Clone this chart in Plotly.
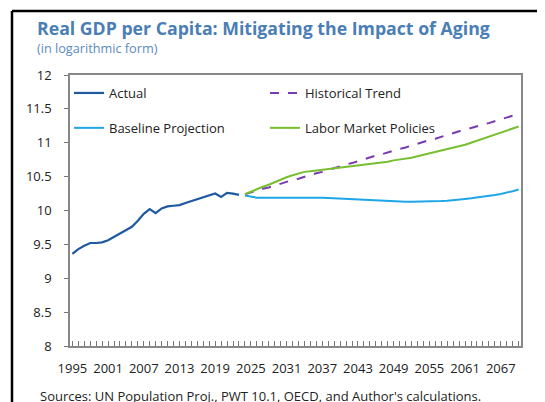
import plotly.graph_objects as go

actual_years = list(range(1995, 2024))
actual = [9.36, 9.43, 9.48, 9.52, 9.52, 9.53, 9.56, 9.61, 9.66, 9.71,
          9.76, 9.85, 9.95, 10.02, 9.96, 10.03, 10.06, 10.07, 10.08, 10.11,
          10.14, 10.17, 10.20, 10.23, 10.25, 10.20, 10.26, 10.25, 10.23]

proj_years = list(range(2024, 2071))
historical = [10.24, 10.27, 10.29, 10.32, 10.34, 10.37, 10.39, 10.42, 10.45, 10.47,
              10.50, 10.52, 10.55, 10.57, 10.60, 10.63, 10.65, 10.68, 10.70, 10.73,
              10.75, 10.78, 10.81, 10.83, 10.86, 10.88, 10.91, 10.93, 10.96, 10.99,
              11.01, 11.04, 11.06, 11.09, 11.11, 11.14, 11.17, 11.19, 11.22, 11.24,
              11.27, 11.29, 11.32, 11.35, 11.37, 11.40, 11.42]
baseline = [10.22, 10.20, 10.19, 10.19, 10.19, 10.19, 10.195, 10.20, 10.20, 10.20,
            10.20, 10.20, 10.20, 10.19, 10.185, 10.18, 10.175, 10.17, 10.165, 10.16,
            10.155, 10.15, 10.145, 10.14, 10.135, 10.13, 10.13, 10.13, 10.13, 10.13,
            10.13, 10.135, 10.14, 10.14, 10.145, 10.15, 10.16, 10.17, 10.18, 10.19,
            10.20, 10.215, 10.23, 10.245, 10.26, 10.285, 10.31]
labor = [10.24, 10.28, 10.31, 10.35, 10.38, 10.42, 10.45, 10.49, 10.52, 10.55,
         10.57, 10.58, 10.59, 10.60, 10.61, 10.62, 10.63, 10.64, 10.65, 10.66,
         10.67, 10.68, 10.70, 10.71, 10.72, 10.74, 10.75, 10.77, 10.78, 10.80,
         10.82, 10.84, 10.86, 10.88, 10.90, 10.92, 10.95, 10.97, 11.00, 11.03,
         11.05, 11.08, 11.11, 11.14, 11.17, 11.21, 11.24]

all_years = list(range(1995, 2071))
x_tick_labels = ["1995", "2001", "2007", "2013", "2019", "2025", "2031",
                 "2037", "2043", "2049", "2055", "2061", "2067"]
x_tick_text = [str(y) if str(y) in x_tick_labels else "" for y in all_years]

# page body has an 8px margin, so the figure is drawn 8px smaller and offset
OFF = 8
W, H = 545 - OFF, 402 - OFF
L0, R0, T0, B0 = 70, 521, 75, 346  # plot area in reference pixels

def px_x(px):
    return (px - L0) / (R0 - L0)

def px_y(py):
    return (B0 - py) / (B0 - T0)

FONT = "Open Sans"
fig = go.Figure()
fig.add_trace(go.Scatter(x=actual_years, y=actual, name="Actual", mode="lines",
                         line=dict(color="#1f5aa0", width=2.2), legend="legend", legendgroup="a"))
fig.add_trace(go.Scatter(x=proj_years, y=baseline, name="Baseline Projection", mode="lines",
                         line=dict(color="#1ea6e6", width=2), legend="legend", legendgroup="b"))
fig.add_trace(go.Scatter(x=proj_years, y=historical, name="Historical Trend", mode="lines",
                         line=dict(color="#7a3bb0", width=2, dash="dash"), legend="legend2", legendgroup="c"))
fig.add_trace(go.Scatter(x=proj_years, y=labor, name="Labor Market Policies", mode="lines",
                         line=dict(color="#78bf30", width=2), legend="legend2", legendgroup="d"))

leg_common = dict(font=dict(family=FONT, size=13, color="#222"), bgcolor="rgba(0,0,0,0)",
                  tracegroupgap=15, yanchor="top", xanchor="left", itemclick=False)

fig.update_layout(
    width=W, height=H,
    margin=dict(l=L0 - OFF, r=W - (R0 - OFF), t=T0 - OFF, b=H - (B0 - OFF), autoexpand=False),
    paper_bgcolor="white", plot_bgcolor="white",
    font=dict(family=FONT, size=13, color="#222"),
    showlegend=True,
    legend=dict(x=px_x(69), y=px_y(78), **leg_common),
    legend2=dict(x=px_x(265), y=px_y(78), **leg_common),
    xaxis=dict(range=[1994.6, 2070.4], tickmode="array", tickvals=all_years, ticktext=x_tick_text,
               ticks="inside", ticklen=5,
               tickcolor="#777", showline=True, linecolor="#888", linewidth=1.5, mirror=True,
               showgrid=False, zeroline=False, ticklabelstandoff=10,
               tickfont=dict(family=FONT, size=13, color="#222")),
    yaxis=dict(range=[8, 12], dtick=0.5, ticks="outside", ticklen=4, tickcolor="#777",
               showline=True, linecolor="#888", linewidth=1.5, mirror=True,
               showgrid=False, zeroline=False, ticklabelstandoff=10,
               tickfont=dict(family=FONT, size=13, color="#222")),
)

fig.add_annotation(text="<b>Real GDP per Capita: Mitigating the Impact of Aging</b>",
                   xref="paper", yref="paper", x=px_x(35), y=px_y(28), xanchor="left", yanchor="middle",
                   showarrow=False, font=dict(family=FONT, size=17.7, color="#4a7eb5"))
fig.add_annotation(text="(in logarithmic form)",
                   xref="paper", yref="paper", x=px_x(35), y=px_y(48), xanchor="left", yanchor="middle",
                   showarrow=False, font=dict(family=FONT, size=12.7, color="#5b8bbf"))
fig.add_annotation(text="Sources: UN Population Proj., PWT 10.1, OECD, and Author's calculations.",
                   xref="paper", yref="paper", x=px_x(38), y=px_y(396), xanchor="left", yanchor="middle",
                   showarrow=False, font=dict(family=FONT, size=13, color="#222"))

# outer frame (left and top)
fig.add_shape(type="line", xref="paper", yref="paper", x0=px_x(12), x1=px_x(12), y0=px_y(420), y1=px_y(11),
              line=dict(color="black", width=2.5))
fig.add_shape(type="line", xref="paper", yref="paper", x0=px_x(12), x1=px_x(560), y0=px_y(11), y1=px_y(11),
              line=dict(color="black", width=2.5))

fig.write_html("out.html")
